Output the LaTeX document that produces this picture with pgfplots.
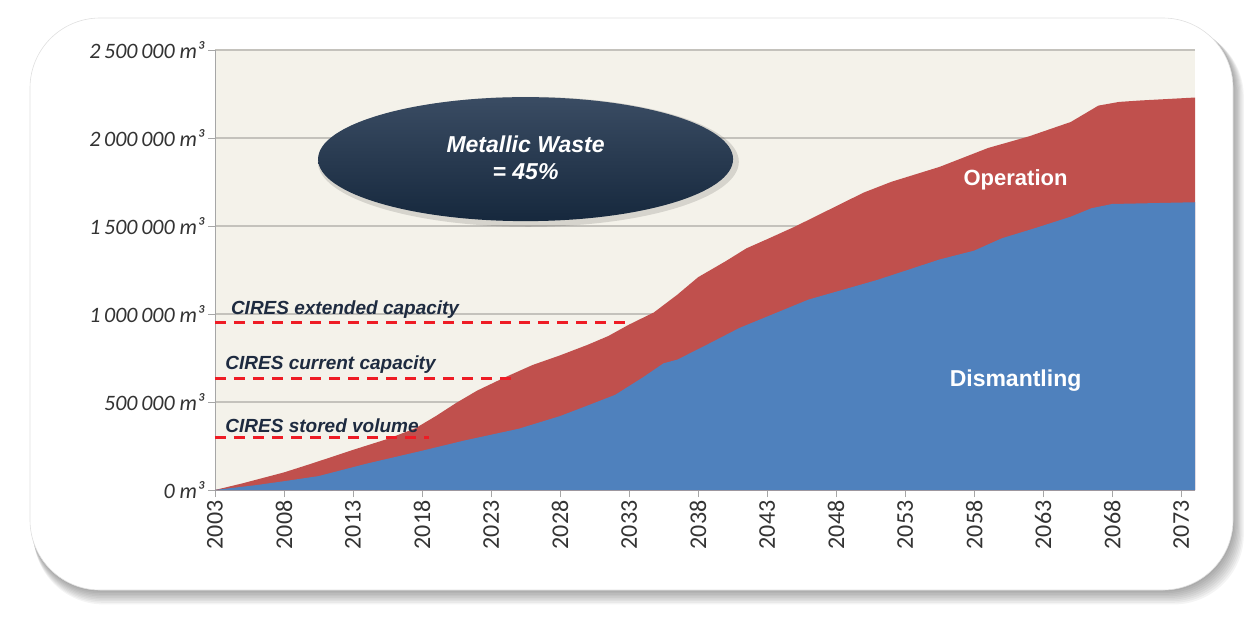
\documentclass[border=0pt]{standalone}
\usepackage{fontspec}
\setmainfont{Liberation Sans}
\newfontfamily\calibri{Carlito}
\usepackage{pgfplots}
\pgfplotsset{compat=1.18}
\usetikzlibrary{shapes.geometric}
\definecolor{bgbeige}{HTML}{F4F2EA}
\definecolor{dism}{HTML}{4F81BD}
\definecolor{oper}{HTML}{C0504D}
\definecolor{navy}{HTML}{16283D}
\definecolor{navylight}{HTML}{3A4C63}
\definecolor{txtnavy}{HTML}{1E2B40}
\definecolor{dashred}{HTML}{EE1C25}
\definecolor{gridgray}{HTML}{C4C2BC}
\definecolor{ticktxt}{HTML}{333333}
\begin{document}
\begin{tikzpicture}
\path[use as bounding box] (-215pt,-137pt) rectangle (1031pt,490pt);
\foreach \d in {2,4,...,18} {
  \fill[black, opacity=0.045, rounded corners=70pt]
    ({(-185+0.2*\d)*1pt},{(-100-0.8*\d)*1pt}) rectangle ({(1018+0.6*\d)*1pt},{(472-0.5*\d)*1pt});
}
\fill[white, rounded corners=70pt] (-185pt,-100pt) rectangle (1018pt,472pt);
\draw[black!12, line width=0.6pt, rounded corners=70pt] (-185pt,-100pt) rectangle (1018pt,472pt);
\begin{axis}[
  scale only axis, width=980pt, height=440pt,
  xmin=2003, xmax=2074, ymin=0, ymax=2500000,
  axis background/.style={fill=bgbeige},
  axis x line*=bottom, axis y line*=left,
  axis line style={gray!70, line width=0.8pt},
  xtick={2003,2008,2013,2018,2023,2028,2033,2038,2043,2048,2053,2058,2063,2068,2073},
  xticklabels={2003,2008,2013,2018,2023,2028,2033,2038,2043,2048,2053,2058,2063,2068,2073},
  ytick={0,500000,1000000,1500000,2000000,2500000},
  yticklabels={0 m³,500\,000 m³,1\,000\,000 m³,1\,500\,000 m³,2\,000\,000 m³,2\,500\,000 m³},
  scaled y ticks=false,
  tick align=outside, major tick length=7pt,
  tick style={gray!70, line width=0.8pt},
  xticklabel style={font=\calibri\fontsize{24}{24}\selectfont, text=ticktxt, rotate=90, anchor=east},
  yticklabel style={font=\calibri\itshape\fontsize{22}{22}\selectfont, text=ticktxt},
  ymajorgrids, major grid style={gridgray, line width=1.2pt},
  clip=false,
]
% Total (Operation on top of Dismantling)
\addplot[fill=oper, draw=none] coordinates {
(2003,0) (2005,38000) (2008,100000) (2010,150000) (2013,228000) (2015.5,290000)
(2017.5,350000) (2019,420000) (2020.5,496000) (2022,565000) (2024,640000)
(2026,710000) (2028,765000) (2030,825000) (2031.5,875000) (2033,940000)
(2034.8,1009000) (2036.5,1110000) (2038,1209000) (2040,1300000) (2041.5,1373000)
(2043,1425000) (2045,1496000) (2048.3,1624000) (2050,1690000) (2052,1751000)
(2055.5,1836000) (2059,1943000) (2062,2010000) (2065,2091000) (2067,2184000)
(2068.5,2205000) (2070,2213000) (2074,2230000)
} \closedcycle;
% Dismantling
\addplot[fill=dism, draw=none] coordinates {
(2003,0) (2006,28000) (2008,50000) (2010.5,79000) (2014,150000) (2018,223000)
(2021,280000) (2025,348000) (2028,420000) (2030,480000) (2032,541000)
(2034,640000) (2035.5,720000) (2036.5,741000) (2038.5,820000) (2041,921000)
(2046,1082000) (2051,1194000) (2055.5,1310000) (2058,1360000) (2060,1430000)
(2062.5,1490000) (2065,1553000) (2066.5,1601000) (2068,1625000) (2074,1635000)
} \closedcycle;
% CIRES lines
\addplot[dashred, line width=3.2pt, dash pattern=on 11pt off 8pt] coordinates {(2003,950000) (2033,950000)};
\addplot[dashred, line width=3.2pt, dash pattern=on 11pt off 8pt] coordinates {(2003,635000) (2025,635000)};
\addplot[dashred, line width=3.2pt, dash pattern=on 11pt off 8pt] coordinates {(2003,300000) (2018.5,300000)};
\node[anchor=south west, inner sep=2pt, text=txtnavy, font=\bfseries\itshape\fontsize{19}{19}\selectfont] at (axis cs:2004,965000) {CIRES extended capacity};
\node[anchor=south west, inner sep=2pt, text=txtnavy, font=\bfseries\itshape\fontsize{19}{19}\selectfont] at (axis cs:2003.6,650000) {CIRES current capacity};
\node[anchor=south west, inner sep=2pt, text=txtnavy, font=\bfseries\itshape\fontsize{19}{19}\selectfont] at (axis cs:2003.6,315000) {CIRES stored volume};
% Ellipse
\node[ellipse, minimum width=421pt, minimum height=130pt, inner sep=0pt, fill=black, opacity=0.12] at (axis cs:2025.7,1865000) {};
\node[ellipse, minimum width=415pt, minimum height=124pt, inner sep=0pt, top color=navylight, bottom color=navy] at (axis cs:2025.5,1880000) {};
\node[align=center, text=white, font=\bfseries\itshape\fontsize{23}{27}\selectfont] at (axis cs:2025.5,1890000) {Metallic Waste\\= 45\%};
% Series labels
\node[text=white, font=\bfseries\fontsize{22}{22}\selectfont] at (axis cs:2061,1760000) {Operation};
\node[text=white, font=\bfseries\fontsize{23}{23}\selectfont] at (axis cs:2061,620000) {Dismantling};
\end{axis}
\end{tikzpicture}
\end{document}
